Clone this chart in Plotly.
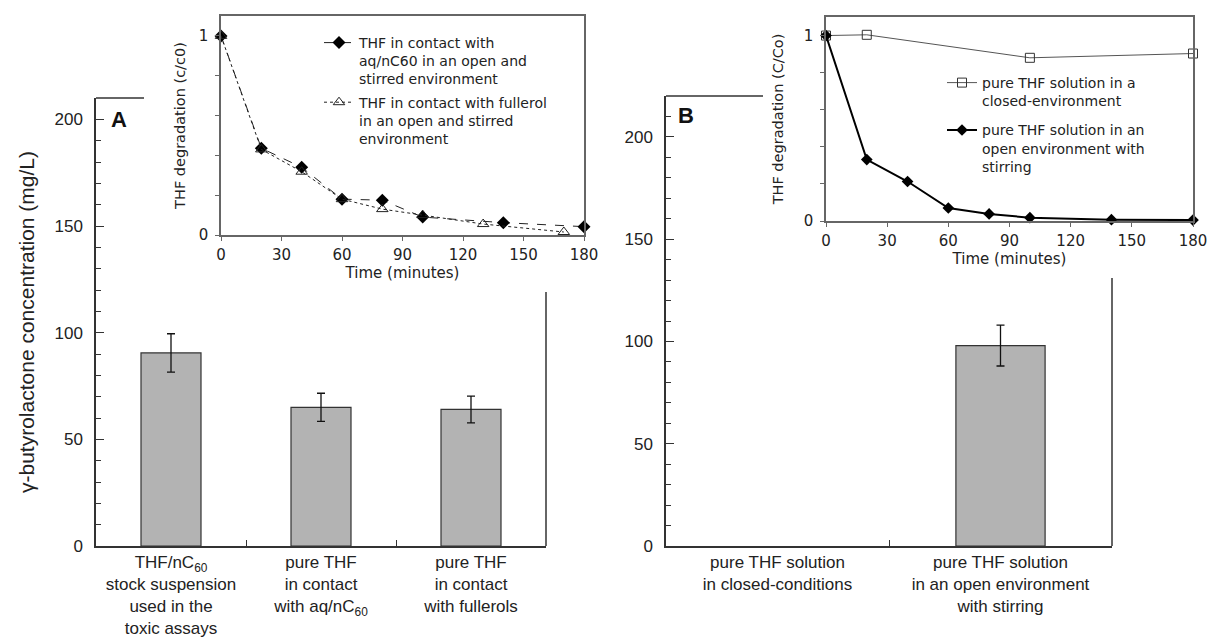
import plotly.graph_objects as go

W, H = 1209, 643

# ---------------- data ----------------
catA = ["THF/nC<sub>60</sub><br>stock suspension<br>used in the<br>toxic assays",
        "pure THF<br>in contact<br>with aq/nC<sub>60</sub>",
        "pure THF<br>in contact<br>with fullerols"]
valA = [90.5, 65.0, 64.0]
errA = [9.0, 6.6, 6.3]

catB = ["pure THF solution<br>in closed-conditions",
        "pure THF solution<br>in an open environment<br>with stirring"]
valB = [None, 98.0]
errB = [None, 10.0]

# inset A (time in minutes, c/c0)
tA1 = [0, 20, 40, 60, 80, 100, 140, 180]
yA1 = [1.0, 0.436, 0.34, 0.18, 0.175, 0.09, 0.062, 0.042]
tA2 = [0, 20, 40, 60, 80, 100, 130, 170]
yA2 = [1.0, 0.43, 0.318, 0.18, 0.13, 0.10, 0.055, 0.015]
nameA1 = "THF in contact with<br>aq/nC60 in an open and<br>stirred environment"
nameA2 = "THF in contact with fullerol<br>in an open and stirred<br>environment"

# inset B (time in minutes, C/Co)
tB1 = [0, 20, 100, 180]
yB1 = [1.0, 1.004, 0.88, 0.903]
tB2 = [0, 20, 40, 60, 80, 100, 140, 180]
yB2 = [1.0, 0.331, 0.213, 0.07, 0.038, 0.018, 0.007, 0.005]
nameB1 = "pure THF solution in a<br>closed-environment"
nameB2 = "pure THF solution in an<br>open environment with<br>stirring"

time_ticks = [0, 30, 60, 90, 120, 150, 180]
ratio_ticks = [0, 1]


def px(x):
    return x / W


def py(y):
    return 1 - y / H


SANS = "Liberation Sans, Arial, sans-serif"
VER = "DejaVu Sans, Verdana, sans-serif"

fig = go.Figure()

# ---------- main bars ----------
fig.add_trace(go.Bar(x=catA, y=valA, width=0.4,
                     marker=dict(color="#b3b3b3", line=dict(color="#333", width=1.2)),
                     error_y=dict(type="data", array=errA, color="#111", thickness=1.3, width=4),
                     xaxis="x", yaxis="y", showlegend=False))
fig.add_trace(go.Bar(x=catB, y=valB, width=0.4,
                     marker=dict(color="#b3b3b3", line=dict(color="#333", width=1.2)),
                     error_y=dict(type="data", array=errB, color="#111", thickness=1.3, width=4),
                     xaxis="x2", yaxis="y2", showlegend=False))

# ---------- inset A ----------
fig.add_trace(go.Scatter(x=tA1, y=yA1, mode="lines+markers", name=nameA1,
                         line=dict(color="#222", width=1, dash="dash"),
                         marker=dict(symbol="diamond", size=10, color="#000"),
                         cliponaxis=False, xaxis="x3", yaxis="y3", legend="legend2",
                         legendgroup="a1"))
fig.add_trace(go.Scatter(x=tA2, y=yA2, mode="lines+markers", name=nameA2,
                         line=dict(color="#222", width=1, dash="dot"),
                         marker=dict(symbol="triangle-up-open", size=10, color="#222",
                                     line=dict(width=1)),
                         cliponaxis=False, xaxis="x3", yaxis="y3", legend="legend2",
                         legendgroup="a2"))

# ---------- inset B ----------
fig.add_trace(go.Scatter(x=tB1, y=yB1, mode="lines+markers", name=nameB1,
                         line=dict(color="#555", width=1),
                         marker=dict(symbol="square-open", size=9, color="#333",
                                     line=dict(width=1)),
                         cliponaxis=False, xaxis="x4", yaxis="y4", legend="legend3",
                         legendgroup="b1"))
fig.add_trace(go.Scatter(x=tB2, y=yB2, mode="lines+markers", name=nameB2,
                         line=dict(color="#000", width=2),
                         marker=dict(symbol="diamond", size=9, color="#000"),
                         cliponaxis=False, xaxis="x4", yaxis="y4", legend="legend3",
                         legendgroup="b2"))

main_y = dict(showline=True, linecolor="#333", linewidth=1.5, automargin=False,
              ticks="inside", ticklen=8, tickcolor="#333", tickwidth=1.3,
              dtick=50, tick0=0, showgrid=False, zeroline=False,
              tickfont=dict(family=SANS, size=17, color="#222"),
              ticklabelstandoff=8,
              minor=dict(ticks="inside", ticklen=5, dtick=10, tick0=0,
                         tickcolor="#333", tickwidth=1.3, showgrid=False))
main_x = dict(showline=True, linecolor="#333", linewidth=1.5, automargin=False,
              ticks="inside", ticklen=6, tickcolor="#333", tickwidth=1.3,
              tickson="boundaries", showgrid=False,
              tickfont=dict(family=SANS, size=17, color="#222"))

inset_x = dict(showline=True, mirror=True, linecolor="#666", linewidth=1.5,
               automargin=False,
               range=[0, 180], tickvals=time_ticks, ticks="outside", ticklen=4,
               tickcolor="#666", showgrid=False, zeroline=False,
               tickfont=dict(family=VER, size=15, color="#222"),
               ticklabelstandoff=1,
               title=dict(text="Time (minutes)", font=dict(family=VER, size=15, color="#222"),
                          standoff=2))
inset_y = dict(showline=True, mirror=True, linecolor="#666", linewidth=1.5,
               automargin=False,
               range=[0, 1.1], tickvals=ratio_ticks,
               ticks="outside", ticklen=4, tickcolor="#666", showgrid=False,
               zeroline=False, tickfont=dict(family=VER, size=15, color="#222"),
               ticklabelstandoff=4,
               minor=dict(ticks="outside", ticklen=4, dtick=0.2, tick0=0,
                          tickcolor="#666", showgrid=False))

fig.update_layout(
    width=W, height=H,
    margin=dict(l=0, r=0, t=0, b=0, autoexpand=False),
    paper_bgcolor="white", plot_bgcolor="white",
    xaxis=dict(main_x, domain=[px(96), px(546)], anchor="y"),
    yaxis=dict(main_y, domain=[py(546), py(98)], range=[0, 210], anchor="x",
               title=dict(text="γ-butyrolactone concentration (mg/L)",
                          font=dict(family=SANS, size=21, color="#222"), standoff=14)),
    xaxis2=dict(main_x, domain=[px(666), px(1112)], anchor="y2"),
    yaxis2=dict(main_y, domain=[py(546), py(96)], range=[0, 220], anchor="x2"),
    xaxis3=dict(inset_x, domain=[px(221), px(584)], anchor="y3"),
    yaxis3=dict(inset_y, domain=[py(235), py(16)], anchor="x3",
                title=dict(text="THF degradation (c/c0)",
                           font=dict(family=VER, size=14.5, color="#222"), standoff=10)),
    xaxis4=dict(inset_x, domain=[px(826), px(1193)], anchor="y4"),
    yaxis4=dict(inset_y, domain=[py(221), py(17)], anchor="x4",
                title=dict(text="THF degradation (C/Co)",
                           font=dict(family=VER, size=14.5, color="#222"), standoff=17)),
    legend2=dict(x=px(319), y=py(27), xanchor="left", yanchor="top",
                 bgcolor="rgba(0,0,0,0)", font=dict(family=VER, size=14, color="#222"),
                 valign="top", tracegroupgap=2),
    legend3=dict(x=px(942), y=py(67), xanchor="left", yanchor="top",
                 bgcolor="rgba(0,0,0,0)", font=dict(family=VER, size=14, color="#222"),
                 valign="top", tracegroupgap=8),
    shapes=[
        dict(type="line", xref="paper", yref="paper", x0=px(96), x1=px(144),
             y0=py(98), y1=py(98), line=dict(color="#333", width=1.5)),
        dict(type="line", xref="paper", yref="paper", x0=px(546), x1=px(546),
             y0=py(292), y1=py(546), line=dict(color="#333", width=1.5)),
        dict(type="line", xref="paper", yref="paper", x0=px(666), x1=px(763),
             y0=py(96), y1=py(96), line=dict(color="#333", width=1.5)),
        dict(type="line", xref="paper", yref="paper", x0=px(1112), x1=px(1112),
             y0=py(278), y1=py(546), line=dict(color="#333", width=1.5)),
    ],
    annotations=[
        dict(text="<b>A</b>", xref="paper", yref="paper", x=px(119), y=py(119),
             xanchor="center", yanchor="middle",
             showarrow=False, font=dict(family=SANS, size=22, color="#111")),
        dict(text="<b>B</b>", xref="paper", yref="paper", x=px(686), y=py(116),
             xanchor="center", yanchor="middle",
             showarrow=False, font=dict(family=SANS, size=22, color="#111")),
    ],
)

fig.write_html("out.html", config={"displayModeBar": False},
               post_script="document.body.style.margin='0px';document.body.style.padding='0px';")
